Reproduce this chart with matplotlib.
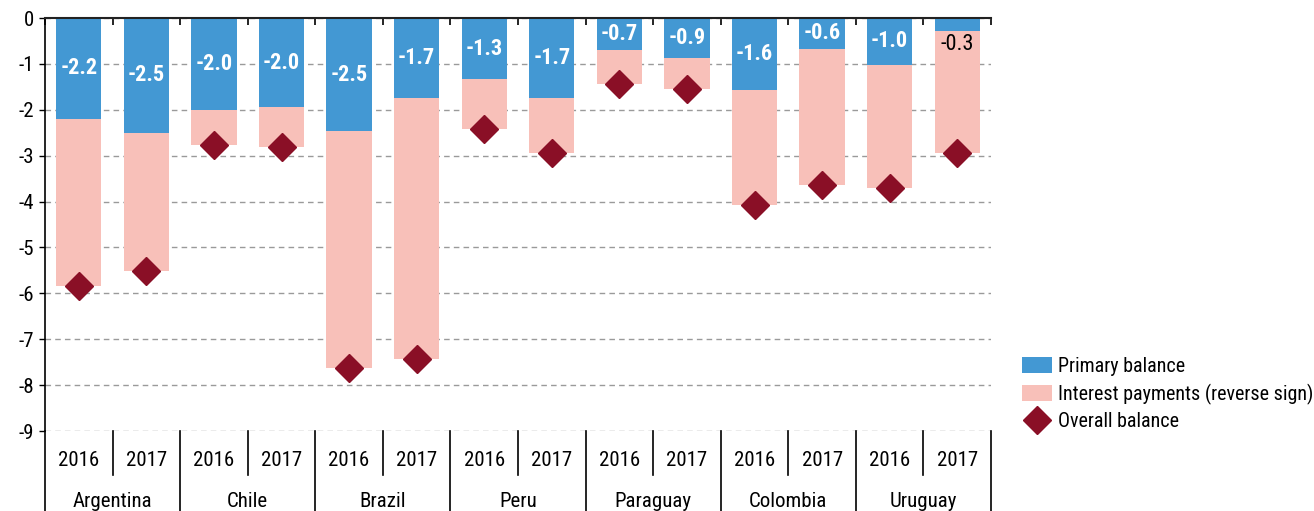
import matplotlib
matplotlib.use("Agg")
import matplotlib.pyplot as plt
from matplotlib.patches import Patch
from matplotlib.lines import Line2D
from matplotlib import font_manager as fm

# pick a condensed font if one is installed
cond = None
for pref in ["Liberation Sans Narrow", "Roboto Condensed", "Open Sans Condensed"]:
    if any(f.name == pref for f in fm.fontManager.ttflist):
        cond = (pref, 'normal')
        break
if cond is None:
    for f in fm.fontManager.ttflist:
        if f.name in ("DejaVu Sans", "Noto Sans", "Open Sans", "Roboto") and str(f.stretch) in ("condensed", "semi-condensed", "75", "87"):
            cond = (f.name, 'condensed')
            break
if cond is None:
    cond = ("Roboto", 'normal')
    FS = 14
    LFS = 12.5
else:
    FS = 15
    LFS = 14.4
plt.rcParams['font.family'] = [cond[0], 'DejaVu Sans']
plt.rcParams['font.stretch'] = cond[1]

countries = ["Argentina", "Chile", "Brazil", "Peru", "Paraguay", "Colombia", "Uruguay"]
years = ["2016", "2017"]
primary = [-2.2, -2.5, -2.0, -1.95, -2.47, -1.74, -1.33, -1.74, -0.70, -0.87, -1.57, -0.67, -1.02, -0.28]
primary_labels = ["-2.2", "-2.5", "-2.0", "-2.0", "-2.5", "-1.7", "-1.3", "-1.7", "-0.7", "-0.9", "-1.6", "-0.6", "-1.0", "-0.3"]
interest = [-3.65, -3.02, -0.77, -0.86, -5.16, -5.69, -1.09, -1.20, -0.74, -0.68, -2.50, -2.97, -2.68, -2.66]
overall = [-5.85, -5.52, -2.77, -2.81, -7.63, -7.43, -2.42, -2.94, -1.44, -1.55, -4.07, -3.64, -3.70, -2.94]

BLUE = "#4398D3"
PINK = "#F8C0B9"
RED = "#8A0F26"

fig = plt.figure(figsize=(13.14, 5.11), dpi=100)
ax = fig.add_axes([45/1314, 1-431/511, (991-45)/1314, (431-18)/511])

n = len(primary)
x = list(range(n))
w = 0.67
ax.bar(x, primary, width=w, color=BLUE, zorder=2)
ax.bar(x, interest, width=w, bottom=primary, color=PINK, zorder=2)
ax.plot(x, overall, linestyle='none', marker='D', markersize=14, color=RED, zorder=3)

for i, (p, lab) in enumerate(zip(primary, primary_labels)):
    if abs(p) < 0.5:
        ax.text(i, p - 0.3, lab, ha='center', va='center', fontsize=FS + 1, color='black', zorder=4)
    else:
        ax.text(i, p / 2, lab, ha='center', va='center', fontsize=FS + 1, color='white',
                fontweight='bold', zorder=4)

ax.set_xlim(-0.5, n - 0.5)
ax.set_ylim(-9, 0)
ax.set_yticks(range(-9, 1))
ax.set_yticklabels([str(v) for v in range(-9, 1)])
ax.tick_params(axis='y', labelsize=FS, length=4, width=1, direction='out', pad=4)
ax.yaxis.grid(True, linestyle=(0, (4, 3)), color='#9a9a9a', linewidth=1, zorder=0)
ax.set_axisbelow(True)

ax.xaxis.set_ticks_position('top')
ax.set_xticks([i + 0.5 for i in range(-1, n)])
ax.set_xticklabels([])
ax.tick_params(axis='x', direction='in', length=5, width=1.2, color='black')

for s in ['right', 'bottom']:
    ax.spines[s].set_visible(False)
ax.spines['top'].set_linewidth(1.5)
ax.spines['top'].set_color('#222222')
ax.spines['left'].set_linewidth(1.2)

tr = ax.get_xaxis_transform()
ax_h = (431 - 18)
def yfrac(px):
    return -(px - 431) / ax_h

for i in range(n):
    ax.text(i, yfrac(460), years[i % 2], transform=tr, ha='center', va='center', fontsize=FS)
for c, name in enumerate(countries):
    ax.text(2 * c + 0.5, yfrac(501), name, transform=tr, ha='center', va='center', fontsize=FS)
for i in range(n):
    xb = i + 0.5
    if i % 2 == 0:
        ax.plot([xb, xb], [0, yfrac(475)], transform=tr, color='black', lw=1.2, clip_on=False)
    else:
        ax.plot([xb, xb], [0, yfrac(520)], transform=tr, color='black', lw=1.2, clip_on=False)
ax.plot([-0.5, -0.5], [0, yfrac(520)], transform=tr, color='black', lw=1.2, clip_on=False)

handles = [Patch(facecolor=BLUE, edgecolor='none', label='Primary balance'),
           Patch(facecolor=PINK, edgecolor='none', label='Interest payments (reverse sign)'),
           Line2D([], [], linestyle='none', marker='D', markersize=14, color=RED, label='Overall balance')]
fig.legend(handles=handles, loc='upper left', bbox_to_anchor=(1022/1314, 1-357/511), frameon=False,
           fontsize=LFS, handlelength=1.5, handleheight=0.8, handletextpad=0.3, labelspacing=0.38,
           borderaxespad=0, borderpad=0)

fig.savefig("out.png", dpi=100)
